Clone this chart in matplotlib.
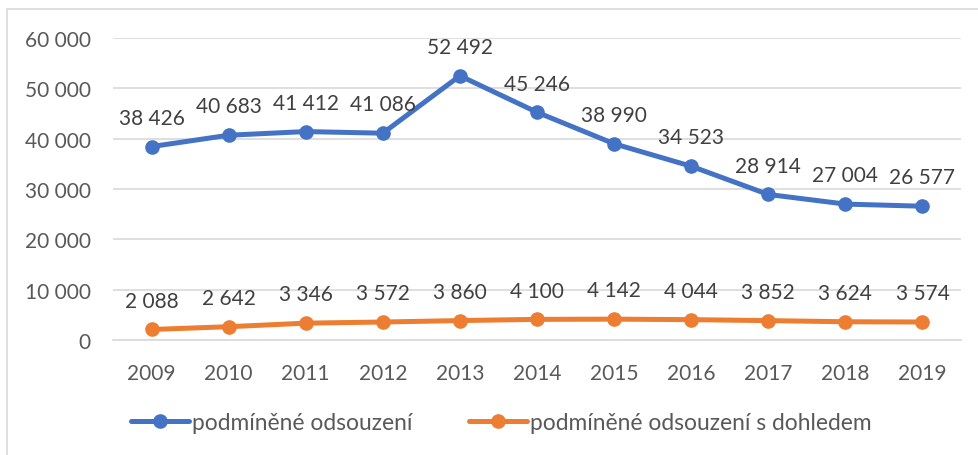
import matplotlib
matplotlib.use("Agg")
import matplotlib.pyplot as plt
from matplotlib.patches import Rectangle

years = ["2009", "2010", "2011", "2012", "2013", "2014", "2015", "2016", "2017", "2018", "2019"]
podminene = [38426, 40683, 41412, 41086, 52492, 45246, 38990, 34523, 28914, 27004, 26577]
s_dohledem = [2088, 2642, 3346, 3572, 3860, 4100, 4142, 4044, 3852, 3624, 3574]
series_names = ["podmíněné odsouzení", "podmíněné odsouzení s dohledem"]
yticks = [0, 10000, 20000, 30000, 40000, 50000, 60000]

def fmt(v):
    return f"{v:,}".replace(",", " ")

plt.rcParams['font.family'] = ['Lato', 'DejaVu Sans']

fig = plt.figure(figsize=(9.79, 4.56), dpi=100)
ax = fig.add_axes([113/979, 1-341/456, (961-113)/979, (341-39)/456])

# border
fig.patches.append(Rectangle((7/979, -0.1), 1.2, 1-10/456+0.1, transform=fig.transFigure,
                             fill=False, edgecolor='#D9D9D9', linewidth=1.2))

x = list(range(len(years)))
colors = ['#4472C4', '#ED7D31']
for vals, name, c in [(podminene, series_names[0], colors[0]), (s_dohledem, series_names[1], colors[1])]:
    ax.plot(x, vals, color=c, linewidth=3.6, marker='o', markersize=9.5, label=name,
            solid_capstyle='round', zorder=3)
    for xi, v in zip(x, vals):
        ax.annotate(fmt(v), (xi, v), xytext=(0, 13.5), textcoords='offset points',
                    ha='center', va='bottom', fontsize=15, color='#404040')

ax.set_xlim(-0.5, len(years) - 0.5)
ax.set_ylim(0, 60000)
ax.set_yticks(yticks)
ax.set_yticklabels([fmt(t) for t in yticks])
ax.set_xticks(x)
ax.set_xticklabels(years)
ax.tick_params(axis='both', length=0, labelsize=15, colors='#595959')
ax.tick_params(axis='y', pad=16)
ax.tick_params(axis='x', pad=16.5)
ax.grid(axis='y', color='#D9D9D9', linewidth=1.2)
ax.set_axisbelow(True)
for s in ['top', 'right', 'left']:
    ax.spines[s].set_visible(False)
ax.spines['bottom'].set_color('#D9D9D9')
ax.spines['bottom'].set_linewidth(1.2)

leg = fig.legend(loc='center', bbox_to_anchor=(0.512, 1-423/456), ncol=2, frameon=False,
                 fontsize=16.4, handlelength=2.55, handletextpad=0.13, columnspacing=2.5)
for t in leg.get_texts():
    t.set_color('#595959')

fig.savefig("out.png", dpi=100)
